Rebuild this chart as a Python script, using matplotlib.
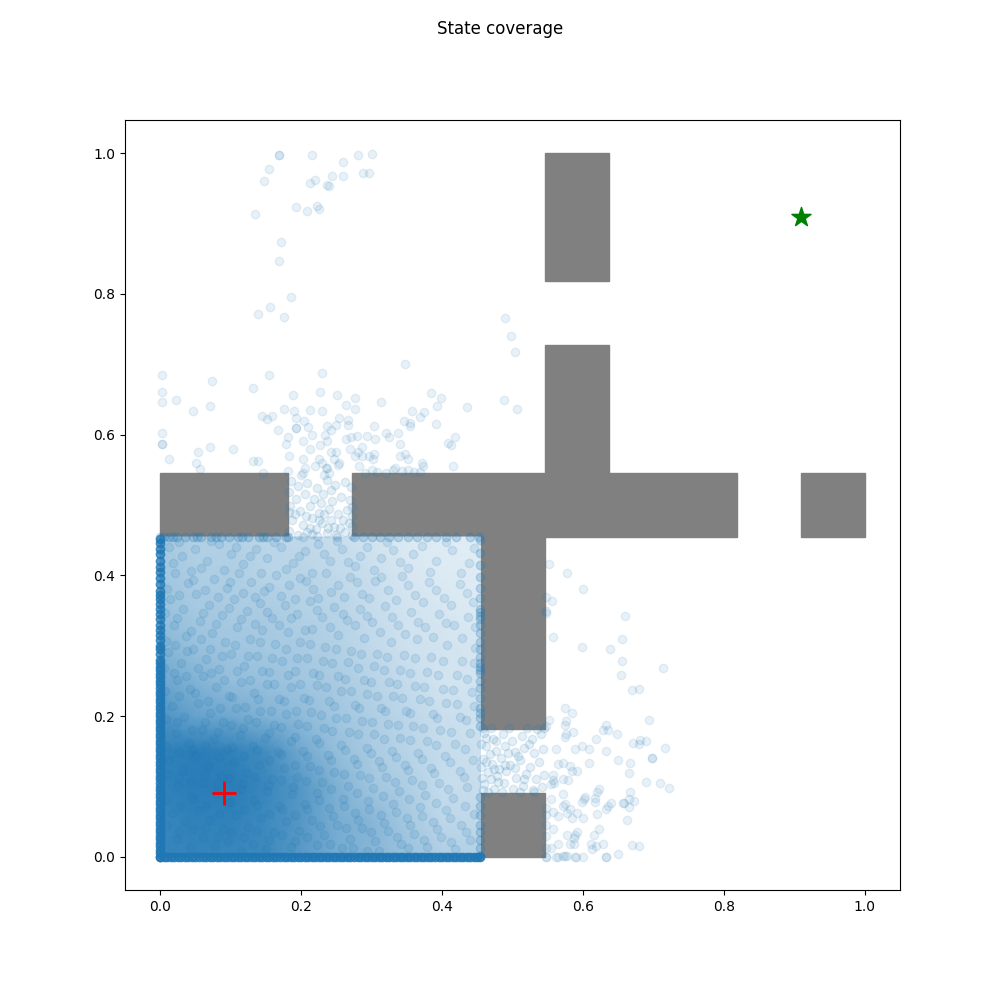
# State coverage plot: maze walls, start, goal and visited states.
# The reference has thousands of visited states, so only the sparse outliers are
# read point by point. The dense block is a hand-read sample of points on top of a
# hand-read shading table (visit_tint).

import numpy as np
import matplotlib.pyplot as plt

GRID = 11
START = (1 / 11, 1 / 11)
GOAL = (10 / 11, 10 / 11)

# wall cells as (column, row), row 0 at the bottom
wall_cells = [(0, 5), (1, 5), (3, 5), (4, 5), (5, 5), (6, 5), (7, 5), (8, 5), (10, 5),
              (5, 0), (5, 2), (5, 3), (5, 4),
              (6, 6), (6, 7), (6, 9), (6, 10)]

# top cluster and points above the horizontal wall
upper_points = [
    (.169, .997), (.169, .997), (.216, .997), (.154, .978), (.147, .960), (.259, .987), (.281, .997),
    (.300, .998), (.288, .971), (.297, .972), (.244, .967), (.259, .967), (.219, .962), (.213, .958),
    (.236, .954), (.240, .953), (.192, .924), (.222, .925), (.225, .921), (.209, .918), (.134, .913),
    (.171, .873), (.169, .847), (.186, .795), (.156, .782), (.139, .771), (.176, .767), (.490, .765),
    (.498, .740), (.503, .717), (.002, .684), (.002, .661), (.002, .647), (.023, .649), (.046, .633),
    (.070, .640), (.073, .676), (.154, .684), (.132, .666), (.189, .656), (.230, .687), (.227, .660),
    (.251, .656), (.277, .652), (.264, .642), (.276, .637), (.229, .634), (.212, .635), (.190, .634),
    (.176, .637), (.314, .647), (.347, .701), (.384, .659), (.399, .652), (.393, .641), (.375, .632),
    (.358, .633), (.368, .625), (.346, .620), (.355, .617), (.355, .612), (.392, .615), (.436, .639),
    (.488, .649), (.507, .637), (.418, .596), (.408, .588), (.412, .585), (.416, .556), (.371, .559),
    (.373, .555), (.002, .602), (.002, .587), (.002, .587), (.013, .566), (.053, .576), (.071, .582),
    (.103, .580), (.051, .559), (.056, .551), (.132, .562), (.139, .563), (.146, .546), (.181, .549),
    (.144, .626), (.151, .622), (.158, .626), (.167, .606), (.192, .623), (.204, .620), (.192, .609),
    (.192, .609), (.210, .611), (.216, .600), (.181, .596), (.179, .586), (.202, .591), (.212, .579),
    (.183, .569), (.202, .566), (.206, .553), (.203, .545), (.200, .542), (.237, .612), (.234, .600),
    (.243, .606), (.249, .613), (.254, .623), (.266, .621), (.267, .613), (.236, .591), (.227, .585),
    (.263, .594), (.271, .596), (.279, .598), (.293, .598), (.305, .594), (.303, .612), (.320, .603),
    (.324, .596), (.337, .602), (.340, .587), (.270, .579), (.287, .583), (.280, .575), (.276, .570),
    (.286, .569), (.296, .570), (.303, .572), (.302, .566), (.340, .570), (.348, .572), (.351, .565),
    (.242, .576), (.249, .575), (.247, .566), (.226, .566), (.254, .560), (.253, .557), (.282, .556),
    (.229, .559), (.220, .556), (.235, .553), (.237, .552), (.233, .543), (.239, .546), (.290, .546),
    (.301, .550), (.308, .547), (.320, .546), (.330, .550), (.333, .553), (.343, .548), (.351, .550),
    (.360, .547), (.368, .547),
]

# points right of the vertical wall
right_points = [
    (.552, .416), (.578, .403), (.600, .380), (.548, .369), (.556, .363), (.548, .349), (.548, .346),
    (.660, .342), (.558, .313), (.656, .309), (.598, .298), (.639, .296), (.656, .279), (.713, .269),
    (.654, .258), (.669, .237), (.680, .238), (.574, .211), (.585, .204), (.694, .194), (.552, .195),
    (.548, .186), (.576, .193), (.574, .188), (.633, .188), (.635, .181), (.628, .180), (.649, .174),
    (.586, .178), (.576, .174), (.575, .170), (.618, .167), (.681, .166), (.671, .162), (.679, .161),
    (.690, .165), (.716, .155), (.562, .154), (.588, .154), (.599, .157), (.608, .154), (.633, .150),
    (.650, .137), (.667, .134), (.698, .140), (.698, .140), (.608, .133), (.564, .132), (.571, .134),
    (.581, .129), (.584, .122), (.592, .122), (.666, .119), (.579, .109), (.571, .110), (.558, .109),
    (.557, .117), (.559, .105), (.555, .104), (.690, .107), (.709, .105), (.722, .098), (.623, .096),
    (.617, .084), (.620, .092), (.617, .078), (.603, .085), (.602, .082), (.598, .078), (.571, .089),
    (.555, .082), (.667, .092), (.666, .083), (.673, .080), (.666, .071), (.657, .076), (.658, .076),
    (.640, .076), (.635, .073), (.632, .068), (.575, .075), (.571, .072), (.581, .068), (.578, .062),
    (.558, .064), (.565, .058), (.584, .055), (.592, .062), (.600, .055), (.620, .061), (.662, .052),
    (.557, .039), (.623, .039), (.592, .035), (.589, .031), (.578, .031), (.587, .027), (.615, .031),
    (.564, .018), (.581, .019), (.587, .018), (.612, .019), (.629, .018), (.618, .015), (.613, .011),
    (.669, .017), (.680, .015), (.555, .012), (.548, .012), (.650, .004), (.632, .000), (.632, .000),
    (.600, .000), (.589, .000), (.590, .000), (.578, .001), (.574, .001), (.571, .001), (.565, .000),
    (.562, .000), (.548, .000), (.548, .000), (.548, .030), (.548, .045), (.548, .060), (.548, .070),
]

# corridor gaps: through the horizontal wall and between the two lower wall blocks
gap_points = [
    (.186, .534), (.196, .527), (.209, .531), (.222, .524), (.236, .536), (.248, .529), (.262, .533),
    (.271, .525), (.183, .518), (.193, .509), (.205, .516), (.218, .508), (.231, .515), (.244, .505),
    (.256, .512), (.269, .507), (.184, .498), (.199, .492), (.212, .499), (.226, .489), (.239, .495),
    (.252, .487), (.265, .493), (.272, .484), (.187, .478), (.203, .472), (.215, .481), (.229, .474),
    (.242, .479), (.255, .468), (.268, .474), (.183, .463), (.195, .458), (.209, .462), (.222, .456),
    (.236, .460), (.249, .457), (.262, .461), (.272, .458), (.213, .467), (.228, .503), (.243, .521),
    (.191, .487), (.207, .484), (.221, .466), (.233, .487), (.247, .469), (.259, .478), (.226, .478),
    (.215, .459), (.238, .467), (.203, .455), (.251, .455), (.183, .490), (.272, .470), (.272, .497),
    (.460, .176), (.472, .168), (.486, .174), (.499, .165), (.513, .172), (.527, .167), (.540, .174),
    (.463, .157), (.476, .150), (.489, .158), (.503, .149), (.517, .155), (.531, .147), (.543, .153),
    (.458, .139), (.471, .132), (.484, .140), (.497, .130), (.511, .137), (.525, .128), (.538, .135),
    (.465, .121), (.478, .115), (.491, .122), (.505, .112), (.519, .118), (.533, .110), (.545, .117),
    (.460, .103), (.474, .097), (.488, .105), (.501, .096), (.515, .101), (.529, .095), (.542, .099),
    (.481, .125), (.508, .143), (.523, .161), (.495, .183), (.470, .183), (.520, .183), (.535, .182),
    (.458, .183), (.545, .183), (.485, .092), (.510, .092), (.530, .092), (.465, .092), (.468, .146),
    (.455, .128), (.480, .106), (.493, .148), (.456, .112), (.469, .111), (.462, .135), (.477, .164),
    (.490, .131), (.455, .160), (.504, .126), (.516, .111), (.474, .125), (.462, .169), (.458, .095),
]

# hand-read sample of the dense block, x and y in 0..0.4545
dense_points = [
    (.012, .441), (.031, .428), (.049, .437), (.067, .421), (.083, .444), (.101, .430), (.118, .416),
    (.136, .438), (.152, .425), (.171, .441), (.189, .418), (.206, .435), (.224, .444), (.241, .421),
    (.258, .437), (.277, .413), (.294, .441), (.313, .424), (.331, .436), (.352, .411), (.371, .442),
    (.392, .420), (.414, .436), (.438, .417), (.021, .403), (.039, .389), (.058, .410), (.076, .395),
    (.095, .382), (.112, .404), (.129, .391), (.147, .378), (.164, .401), (.183, .387), (.199, .396),
    (.217, .381), (.235, .404), (.252, .386), (.269, .398), (.287, .374), (.305, .392), (.323, .379),
    (.343, .399), (.362, .372), (.381, .391), (.403, .368), (.425, .388), (.444, .362), (.014, .366),
    (.033, .352), (.051, .373), (.069, .358), (.087, .344), (.104, .367), (.123, .349), (.141, .361),
    (.158, .339), (.177, .358), (.194, .345), (.212, .364), (.229, .341), (.247, .355), (.265, .336),
    (.283, .352), (.301, .334), (.319, .357), (.337, .329), (.356, .348), (.376, .326), (.396, .345),
    (.417, .329), (.437, .341), (.019, .329), (.037, .314), (.056, .335), (.074, .318), (.092, .306),
    (.109, .326), (.127, .309), (.145, .323), (.163, .302), (.181, .319), (.199, .305), (.216, .324),
    (.234, .298), (.252, .316), (.271, .293), (.289, .311), (.308, .289), (.327, .305), (.346, .287),
    (.365, .309), (.384, .284), (.407, .301), (.429, .279), (.447, .297), (.011, .291), (.029, .276),
    (.047, .296), (.065, .281), (.083, .267), (.101, .288), (.119, .271), (.137, .285), (.155, .263),
    (.173, .279), (.191, .264), (.209, .283), (.226, .259), (.244, .275), (.262, .253), (.281, .268),
    (.299, .249), (.318, .266), (.336, .245), (.355, .262), (.374, .241), (.394, .258), (.415, .237),
    (.436, .253), (.024, .252), (.042, .238), (.061, .257), (.079, .242), (.097, .229), (.115, .249),
    (.133, .233), (.151, .246), (.168, .225), (.186, .241), (.204, .226), (.222, .244), (.239, .221),
    (.257, .236), (.276, .216), (.294, .231), (.313, .212), (.331, .228), (.349, .208), (.368, .224),
    (.387, .203), (.406, .219), (.426, .199), (.446, .214), (.016, .214), (.034, .199), (.053, .218),
    (.071, .204), (.089, .191), (.107, .211), (.124, .196), (.142, .207), (.161, .187), (.179, .203),
    (.196, .189), (.214, .206), (.232, .183), (.249, .198), (.268, .178), (.286, .193), (.304, .174),
    (.323, .189), (.341, .169), (.359, .186), (.378, .164), (.397, .181), (.418, .161), (.439, .176),
    (.022, .176), (.041, .162), (.059, .181), (.077, .167), (.095, .153), (.113, .173), (.131, .158),
    (.149, .169), (.167, .149), (.185, .165), (.203, .151), (.221, .168), (.238, .145), (.256, .159),
    (.275, .139), (.293, .155), (.311, .136), (.329, .151), (.348, .131), (.366, .147), (.385, .126),
    (.404, .143), (.425, .122), (.444, .138), (.013, .138), (.032, .124), (.050, .143), (.068, .129),
    (.086, .115), (.104, .135), (.122, .119), (.140, .131), (.158, .111), (.176, .127), (.194, .113),
    (.212, .129), (.229, .107), (.247, .121), (.266, .101), (.284, .117), (.302, .098), (.320, .113),
    (.339, .093), (.357, .109), (.376, .088), (.395, .105), (.416, .084), (.436, .099), (.025, .101),
    (.043, .087), (.061, .105), (.079, .091), (.097, .077), (.115, .097), (.133, .081), (.151, .093),
    (.169, .073), (.187, .089), (.205, .075), (.223, .091), (.240, .069), (.259, .083), (.277, .063),
    (.295, .079), (.313, .059), (.331, .075), (.350, .056), (.368, .071), (.387, .049), (.406, .066),
    (.427, .046), (.446, .061), (.017, .063), (.035, .049), (.053, .067), (.071, .053), (.089, .039),
    (.107, .059), (.125, .043), (.143, .055), (.161, .035), (.179, .051), (.197, .037), (.215, .053),
    (.232, .031), (.251, .045), (.269, .026), (.287, .041), (.305, .022), (.323, .037), (.342, .018),
    (.360, .033), (.379, .014), (.398, .029), (.419, .011), (.439, .024), (.024, .025), (.042, .012),
    (.060, .029), (.078, .015), (.096, .022), (.114, .009), (.132, .019), (.150, .011), (.186, .014),
    (.222, .017), (.258, .012), (.294, .009),
]

# second, unevenly placed sample to break up the rows of the first one
dense_points_b = [
    (.018, .418), (.027, .447), (.044, .406), (.072, .449), (.091, .407), (.108, .441), (.127, .427),
    (.143, .404), (.161, .447), (.178, .409), (.197, .428), (.215, .403), (.233, .431), (.251, .449),
    (.266, .419), (.284, .428), (.303, .408), (.322, .447), (.341, .419), (.359, .431), (.383, .405),
    (.405, .448), (.427, .404), (.446, .439), (.009, .381), (.026, .372), (.047, .393), (.064, .379),
    (.082, .369), (.099, .391), (.117, .375), (.135, .369), (.155, .384), (.171, .371), (.191, .366),
    (.207, .392), (.224, .368), (.243, .377), (.261, .369), (.279, .391), (.296, .368), (.314, .397),
    (.334, .365), (.351, .386), (.373, .362), (.392, .379), (.413, .358), (.436, .375), (.007, .347),
    (.024, .339), (.044, .321), (.061, .346), (.079, .331), (.097, .353), (.114, .338), (.134, .331),
    (.151, .348), (.169, .329), (.186, .339), (.205, .322), (.222, .351), (.241, .327), (.259, .345),
    (.276, .329), (.293, .342), (.312, .319), (.329, .341), (.347, .317), (.366, .334), (.387, .312),
    (.406, .333), (.428, .311), (.447, .327), (.008, .307), (.021, .301), (.038, .292), (.058, .309),
    (.071, .296), (.088, .285), (.106, .301), (.124, .286), (.142, .305), (.159, .282), (.178, .296),
    (.194, .282), (.213, .302), (.231, .278), (.249, .296), (.267, .277), (.285, .289), (.303, .271),
    (.322, .284), (.341, .266), (.361, .282), (.379, .263), (.401, .278), (.421, .259), (.445, .275),
    (.006, .269), (.019, .261), (.036, .257), (.053, .269), (.072, .262), (.091, .251), (.109, .264),
    (.127, .252), (.145, .264), (.162, .246), (.181, .258), (.199, .245), (.217, .262), (.235, .241),
    (.253, .257), (.271, .236), (.289, .251), (.307, .229), (.325, .248), (.343, .226), (.362, .243),
    (.381, .222), (.401, .239), (.421, .217), (.443, .234), (.007, .236), (.027, .228), (.049, .233),
    (.068, .221), (.085, .211), (.102, .227), (.121, .213), (.139, .225), (.157, .207), (.175, .221),
    (.192, .208), (.211, .223), (.228, .202), (.246, .215), (.264, .197), (.282, .211), (.301, .192),
    (.319, .207), (.337, .187), (.355, .205), (.373, .183), (.393, .198), (.413, .178), (.434, .195),
    (.008, .196), (.024, .191), (.045, .181), (.064, .192), (.082, .178), (.101, .188), (.118, .183),
    (.136, .191), (.154, .176), (.172, .184), (.191, .171), (.209, .186), (.226, .162), (.244, .179),
    (.262, .152), (.281, .174), (.299, .148), (.317, .168), (.335, .142), (.354, .166), (.372, .139),
    (.391, .159), (.411, .135), (.432, .154), (.008, .158), (.027, .149), (.046, .152), (.063, .159),
    (.084, .142), (.102, .156), (.119, .143), (.137, .152), (.155, .137), (.172, .146), (.191, .131),
    (.208, .143), (.226, .123), (.243, .138), (.261, .118), (.279, .132), (.297, .112), (.315, .128),
    (.333, .106), (.352, .124), (.371, .102), (.389, .119), (.409, .097), (.431, .113), (.009, .118),
    (.027, .112), (.044, .107), (.063, .116), (.081, .103), (.099, .112), (.117, .105), (.135, .113),
    (.153, .102), (.171, .109), (.189, .099), (.207, .108), (.225, .081), (.243, .096), (.261, .073),
    (.279, .091), (.297, .068), (.316, .087), (.334, .064), (.353, .082), (.372, .058), (.391, .077),
    (.411, .055), (.433, .072), (.009, .081), (.028, .073), (.047, .083), (.065, .072), (.083, .061),
    (.101, .078), (.119, .068), (.137, .074), (.155, .061), (.173, .068), (.191, .059), (.209, .068),
    (.227, .044), (.245, .058), (.263, .041), (.281, .052), (.299, .036), (.318, .048), (.336, .029),
    (.355, .045), (.374, .024), (.393, .039), (.413, .021), (.434, .036), (.009, .046), (.027, .037),
    (.046, .039), (.064, .041), (.082, .028), (.101, .036), (.119, .029), (.137, .037), (.155, .024),
    (.173, .031), (.191, .022), (.209, .029), (.241, .018), (.274, .012), (.311, .009), (.351, .012),
]

# states pressed against the maze borders
left_edge_y = [0, .005, .010, .015, .020, .025, .030, .035, .040, .045, .050, .055, .060, .065, .070,
               .075, .080, .085, .090, .095, .100, .105, .110, .115, .120, .125, .130, .135, .140,
               .145, .150, .155, .160, .165, .170, .175, .180, .185, .190, .195, .200, .205, .210,
               .215, .220, .225, .230, .235, .240, .245, .250, .255, .260, .265, .270, .275, .280,
               .288, .295, .300, .308, .315, .322, .330, .338, .345, .352, .360, .366, .372, .378,
               .388, .396, .405, .412, .420, .430, .438, .446, .452]
bottom_edge_x = [0, .005, .010, .015, .020, .025, .030, .035, .040, .045, .050, .055, .060, .065, .070,
                 .075, .080, .085, .090, .095, .100, .105, .110, .115, .120, .125, .130, .135, .140,
                 .145, .150, .155, .160, .165, .170, .175, .180, .185, .190, .195, .200, .205, .210,
                 .215, .220, .225, .230, .235, .240, .245, .250, .255, .260, .265, .270, .275, .280,
                 .285, .290, .295, .300, .305, .310, .315, .320, .325, .330, .335, .340, .345, .350,
                 .355, .360, .365, .370, .375, .380, .385, .390, .395, .400, .405, .410, .415, .420,
                 .425, .430, .435, .440, .445, .450, .454]
top_edge_x = [0, .006, .012, .018, .024, .035, .046, .052, .058, .072, .079, .086, .098, .110, .116,
              .125, .140, .146, .152, .165, .178, .181, .275, .288, .300, .312, .325, .338, .352,
              .365, .378, .392, .405, .420, .440, .452]
right_edge_y = [.002, .002, .012, .024, .035, .046, .060, .072, .085, .186, .198, .205, .212, .226,
                .240, .250, .262, .266, .270, .276, .284, .296, .305, .318, .330, .338, .342, .348,
                .352, .368, .382, .398, .415, .432, .450]

# tint of the dense block, rows bottom to top
tint_nodes = [0, .05, .10, .15, .20, .25, .30, .35, .40, .4545]
visit_tint = [
    [.90, .90, .88, .86, .74, .62, .54, .46, .36, .34],
    [.88, .92, .92, .86, .76, .60, .54, .40, .30, .28],
    [.92, .95, .95, .88, .76, .58, .42, .36, .26, .24],
    [.92, .95, .92, .84, .64, .48, .38, .32, .26, .22],
    [.80, .68, .64, .56, .50, .42, .36, .30, .24, .22],
    [.66, .56, .48, .46, .42, .38, .32, .26, .20, .20],
    [.54, .46, .42, .40, .38, .34, .28, .22, .20, .18],
    [.46, .40, .38, .38, .34, .32, .26, .20, .18, .16],
    [.42, .36, .36, .32, .32, .28, .24, .18, .16, .14],
    [.40, .34, .34, .30, .28, .24, .20, .16, .14, .14],
]

fig = plt.figure(figsize=(10, 10))
fig.suptitle("State coverage")
ax = fig.add_subplot(111)

for col, row in wall_cells:
    ax.add_patch(plt.Rectangle((col / GRID, row / GRID), 1 / GRID, 1 / GRID, color="gray", zorder=1))

# light-to-blue map so the tint table behaves like stacked alpha
tint_cmap = plt.matplotlib.colors.LinearSegmentedColormap.from_list("tint", ["white", "C0"])
ax.pcolormesh(tint_nodes, tint_nodes, visit_tint, cmap=tint_cmap, vmin=0, vmax=1,
              shading="gouraud", zorder=1.5)

for pts, alpha in [(upper_points, .1), (right_points, .1), (gap_points, .12),
                   (dense_points, .12), (dense_points_b, .12)]:
    pts = np.array(pts)
    ax.scatter(pts[:, 0], pts[:, 1], color="C0", alpha=alpha, zorder=2)

ax.scatter(np.zeros(len(left_edge_y)), left_edge_y, color="C0", alpha=.75, zorder=2)
ax.scatter(bottom_edge_x, np.zeros(len(bottom_edge_x)), color="C0", alpha=.75, zorder=2)
ax.scatter(top_edge_x, np.full(len(top_edge_x), 5 / 11), color="C0", alpha=.22, zorder=2)
ax.scatter(np.full(len(right_edge_y), 5 / 11), right_edge_y, color="C0", alpha=.22, zorder=2)

ax.scatter(*START, marker="+", color="red", s=300, linewidths=2, zorder=3)
ax.scatter(*GOAL, marker="*", color="green", s=210, zorder=3)

ax.set_xlim(-0.05, 1.05)
ax.set_ylim(-0.047, 1.047)
fig.savefig("out.png", dpi=100)
